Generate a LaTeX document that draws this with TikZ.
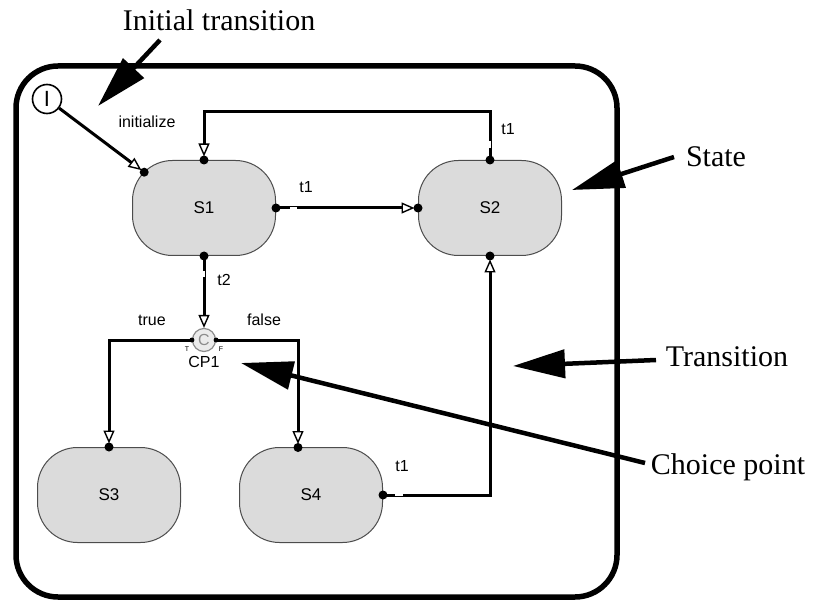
\documentclass[tikz,border=0pt]{standalone}
\usepackage{fontspec}
\setmainfont{Liberation Serif}
\setsansfont{Liberation Sans}
\usetikzlibrary{arrows.meta,calc}

\begin{document}
\begin{tikzpicture}[x=1pt,y=-1pt,
  state/.style={draw=black!70, line width=1pt, fill=black!14, rounded corners=40pt,
    minimum width=143pt, minimum height=95pt, inner sep=0pt,
    font=\sffamily\fontsize{17}{20}\selectfont},
  port/.style={circle, fill=black, inner sep=0pt, minimum size=9pt},
  cport/.style={circle, fill=black, inner sep=0pt, minimum size=5pt},
  trans/.style={line width=3pt, -{Triangle[open, length=13pt, width=11pt, line width=1.4pt]}},
  gapmark/.style={white, line width=1.4pt},
  lbl/.style={font=\sffamily\fontsize{16}{19}\selectfont, inner sep=0pt},
  tiny/.style={font=\sffamily\fontsize{7}{8}\selectfont, inner sep=0pt},
  note/.style={font=\fontsize{30}{36}\selectfont, inner sep=0pt},
  pointer/.style={line width=4.5pt, -{Triangle[length=52pt, width=28pt]}},
]
\useasboundingbox (0,0) rectangle (813,601);

% enclosing state machine
\draw[line width=5.5pt, rounded corners=42pt] (16,66) rectangle (617,597);

% states
\node[state] (s1) at (204,208) {S1};
\node[state] (s2) at (490,208) {S2};
\node[state] (s3) at (109,495) {S3};
\node[state] (s4) at (311,495) {S4};

% initial point and choice point
\node[circle, draw, line width=1.6pt, minimum size=29pt, inner sep=0pt, fill=white,
  font=\sffamily\fontsize{22}{22}\selectfont] (init) at (47,99) {I};
\node[circle, draw=black!45, line width=1.2pt, fill=black!8, minimum size=23pt, inner sep=0pt,
  text=black!45, font=\sffamily\fontsize{16}{16}\selectfont] (cp) at (204,340) {C};

% connection points
\coordinate (p1l) at (144.2,172.2);
\coordinate (p1t) at (s1.north);
\coordinate (p1r) at (s1.east);
\coordinate (p1b) at (s1.south);
\coordinate (p2l) at (s2.west);
\coordinate (p2t) at (s2.north);
\coordinate (p2b) at (s2.south);
\coordinate (p3t) at (s3.north);
\coordinate (p4t) at (298,447.5);
\coordinate (p4r) at (s4.east);
\coordinate (cpl) at (cp.west);
\coordinate (cpr) at (cp.east);

% transitions
\draw[trans, shorten >=3.5pt] (init) -- (p1l);
\draw[trans, shorten >=3.5pt] (p1r) -- (p2l);
\draw[gapmark] ($(p1r)+(14,0)$) -- ++(7,0);
\draw[trans, shorten >=3.5pt] (p2t) -- ++(0,-48) -| (p1t);
\draw[gapmark] ($(p2t)+(0,-12)$) -- ++(0,-7);
\draw[trans] (p1b) -- (cp);
\draw[gapmark] ($(p1b)+(0,15)$) -- ++(0,6);
\draw[trans, shorten >=3.5pt] (cpl) -| (p3t);
\draw[trans, shorten >=3.5pt] (cpr) -| (p4t);
\draw[trans, shorten >=3.5pt] (p4r) -| (p2b);
\draw[gapmark] ($(p4r)+(12,0)$) -- ++(8,0);

\foreach \p in {p1l,p1t,p1r,p1b,p2l,p2t,p2b,p3t,p4t,p4r}
  \node[port] at (\p) {};
\node[cport] at (cpl) {};
\node[cport] at (cpr) {};

% transition labels
\node[lbl] (linit) at (147,122) {initialize};
\node[lbl] (lt1a) at (306,187) {t1};
\node[lbl] (lt1b) at (508,129) {t1};
\node[lbl] (lt2) at (224,280) {t2};
\node[lbl] (ltrue) at (152,320) {true};
\node[lbl] (lfalse) at (264,320) {false};
\node[lbl] (lcp) at (204,362) {CP1};
\node[lbl] (lt1c) at (402,466) {t1};
\node[tiny] (lT) at (187,349) {T};
\node[tiny] (lF) at (221,349) {F};

% annotations
\node[note] (nInit) at (219,20) {Initial transition};
\node[note] (nState) at (716,157) {State};
\node[note] (nTrans) at (727,357) {Transition};
\node[note] (nChoice) at (728,467) {Choice point};
\coordinate (aInit) at (160,40);
\coordinate (tInit) at (98,106);
\coordinate (aState) at (674,157);
\coordinate (tState) at (572,190);
\coordinate (aTrans) at (656,360);
\coordinate (tTrans) at (513,366);
\coordinate (aChoice) at (645,463);
\coordinate (tChoice) at (241,363);
\draw[pointer] (aInit) -- (tInit);
\draw[pointer] (aState) -- (tState);
\draw[pointer] (aTrans) -- (tTrans);
\draw[pointer] (aChoice) -- (tChoice);
\end{tikzpicture}
\end{document}
